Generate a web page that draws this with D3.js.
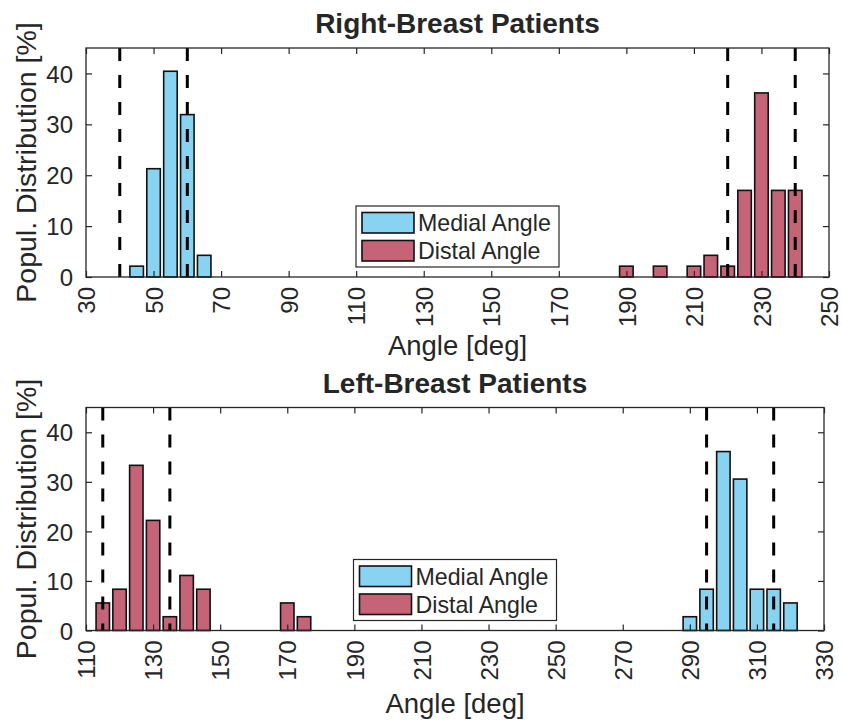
<!DOCTYPE html>
<html>
<head>
<meta charset="utf-8">
<script src="https://cdn.jsdelivr.net/npm/d3@7"></script>
<style>
  html, body { margin: 0; padding: 0; background: #fff; }
  svg { display: block; }
  text { font-family: "Liberation Sans", Arial, Helvetica, sans-serif; fill: #262626; }
</style>
</head>
<body>
<svg id="chart" width="842" height="720"></svg>
<script>
// ---- data: population distribution [%] per 5-degree angle bin ----
const rightMedialBins = [45, 50, 55, 60, 65];
const rightMedialPct  = [2.13, 21.28, 40.43, 31.91, 4.26];
const rightDistalBins = [190, 200, 210, 215, 220, 225, 230, 235, 240];
const rightDistalPct  = [2.13, 2.13, 2.13, 4.26, 2.13, 17.02, 36.17, 17.02, 17.02];
const rightLimits     = [40, 60, 220, 240];

const leftDistalBins  = [115, 120, 125, 130, 135, 140, 145, 170, 175];
const leftDistalPct   = [5.56, 8.33, 33.33, 22.22, 2.78, 11.11, 8.33, 5.56, 2.78];
const leftMedialBins  = [290, 295, 300, 305, 310, 315, 320];
const leftMedialPct   = [2.78, 8.33, 36.11, 30.56, 8.33, 8.33, 5.56];
const leftLimits      = [115, 135, 295, 315];

const rightXTicks = [30, 50, 70, 90, 110, 130, 150, 170, 190, 210, 230, 250];
const leftXTicks  = [110, 130, 150, 170, 190, 210, 230, 250, 270, 290, 310, 330];
const yTicks      = [0, 10, 20, 30, 40];
const seriesNames = ["Medial Angle", "Distal Angle"];
const barWidth    = 4;   // degrees

const colMedial = "#88D3F2";
const colDistal = "#C46476";
const axisCol   = "#262626";

const svg = d3.select("#chart");
svg.append("rect").attr("width", 842).attr("height", 720).attr("fill", "#fff");

function panel(cfg) {
  const x = d3.scaleLinear().domain(cfg.xDomain).range([cfg.left, cfg.right]);
  const y = d3.scaleLinear().domain([0, 45]).range([cfg.bottom, cfg.top]);
  const g = svg.append("g");

  // histogram bars
  const drawBars = (bins, pct, color) => {
    g.append("g").selectAll("rect")
      .data(bins.map((b, i) => ({ b, v: pct[i] })))
      .join("rect")
      .attr("x", d => x(d.b - barWidth / 2))
      .attr("width", d => x(d.b + barWidth / 2) - x(d.b - barWidth / 2))
      .attr("y", d => y(d.v))
      .attr("height", d => y(0) - y(d.v))
      .attr("fill", color)
      .attr("stroke", "#111")
      .attr("stroke-width", 1.6);
  };
  drawBars(cfg.medialBins, cfg.medialPct, colMedial);
  drawBars(cfg.distalBins, cfg.distalPct, colDistal);

  // angle limits
  g.append("g").selectAll("line")
    .data(cfg.limits)
    .join("line")
    .attr("x1", d => x(d)).attr("x2", d => x(d))
    .attr("y1", cfg.top).attr("y2", cfg.bottom)
    .attr("stroke", "#000")
    .attr("stroke-width", 3)
    .attr("stroke-dasharray", "13,14");

  // axes: ticks inside, box on all sides
  const tl = 6;
  const xb = g.append("g").attr("transform", `translate(0,${cfg.bottom})`)
    .call(d3.axisBottom(x).tickValues(cfg.xTicks).tickSizeInner(-tl).tickSizeOuter(0).tickPadding(10));
  xb.selectAll(".tick text")
    .attr("transform", "rotate(-90)")
    .attr("text-anchor", "end")
    .attr("x", -10).attr("y", 0).attr("dy", "0.36em")
    .style("font-size", "24px");
  const xt = g.append("g").attr("transform", `translate(0,${cfg.top})`)
    .call(d3.axisTop(x).tickValues(cfg.xTicks).tickSizeInner(-tl).tickSizeOuter(0).tickFormat(""));
  const yl = g.append("g").attr("transform", `translate(${cfg.left},0)`)
    .call(d3.axisLeft(y).tickValues(yTicks).tickSizeInner(-tl).tickSizeOuter(0).tickPadding(13));
  yl.selectAll(".tick text").style("font-size", "24px").attr("dy", "0.36em");
  const yr = g.append("g").attr("transform", `translate(${cfg.right},0)`)
    .call(d3.axisRight(y).tickValues(yTicks).tickSizeInner(-tl).tickSizeOuter(0).tickFormat(""));
  [xb, xt, yl, yr].forEach(a => {
    a.select(".domain").remove();
    a.selectAll(".tick line").attr("stroke", axisCol).attr("stroke-width", 1.2);
    a.selectAll(".tick text").attr("fill", axisCol).style("font-family", null);
  });
  g.append("rect")
    .attr("x", cfg.left).attr("y", cfg.top)
    .attr("width", cfg.right - cfg.left).attr("height", cfg.bottom - cfg.top)
    .attr("fill", "none").attr("stroke", axisCol).attr("stroke-width", 1.3);

  // title and axis labels
  const cx = (cfg.left + cfg.right) / 2;
  g.append("text").attr("x", cx).attr("y", cfg.top - 15)
    .attr("text-anchor", "middle").style("font-size", "28px").style("font-weight", "bold")
    .attr("fill", "#000").text(cfg.title);
  g.append("text").attr("x", cx).attr("y", cfg.xLabelY)
    .attr("text-anchor", "middle").style("font-size", "27.5px").text("Angle [deg]");
  g.append("text")
    .attr("transform", `translate(35.5,${(cfg.top + cfg.bottom) / 2}) rotate(-90)`)
    .attr("text-anchor", "middle").style("font-size", "28.5px").text("Popul. Distribution [%]");

  // legend
  const lw = 203, lh = 61;
  const lx = cx - lw / 2, ly = cfg.bottom - 10 - lh;
  const lg = g.append("g").attr("transform", `translate(${lx},${ly})`);
  lg.append("rect").attr("width", lw).attr("height", lh)
    .attr("fill", "#fff").attr("stroke", axisCol).attr("stroke-width", 1.2);
  [colMedial, colDistal].forEach((c, i) => {
    const ry = 6.5 + i * 28;
    lg.append("rect").attr("x", 6).attr("y", ry).attr("width", 52).attr("height", 20.5)
      .attr("fill", c).attr("stroke", "#111").attr("stroke-width", 1.6);
    lg.append("text").attr("x", 62).attr("y", ry + 10.5).attr("dy", "0.36em")
      .style("font-size", "23.2px").text(seriesNames[i]);
  });
}

panel({
  title: "Right-Breast Patients",
  xDomain: [30, 250], xTicks: rightXTicks,
  left: 86, right: 829, top: 48, bottom: 277, xLabelY: 355,
  medialBins: rightMedialBins, medialPct: rightMedialPct,
  distalBins: rightDistalBins, distalPct: rightDistalPct,
  limits: rightLimits
});

panel({
  title: "Left-Breast Patients",
  xDomain: [110, 330], xTicks: leftXTicks,
  left: 86, right: 824, top: 407.5, bottom: 630.5, xLabelY: 713,
  medialBins: leftMedialBins, medialPct: leftMedialPct,
  distalBins: leftDistalBins, distalPct: leftDistalPct,
  limits: leftLimits
});
</script>
</body>
</html>
